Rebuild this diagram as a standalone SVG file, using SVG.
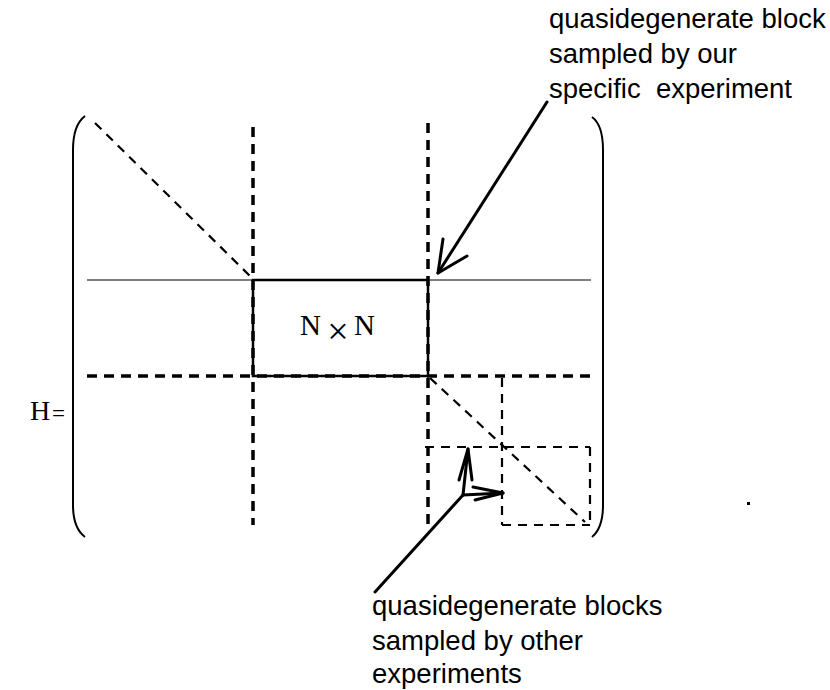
<svg xmlns="http://www.w3.org/2000/svg" width="830" height="690" viewBox="0 0 830 690">
<style>
.lbl{font-family:"Liberation Sans",Arial,sans-serif;font-size:27.5px;fill:#000;white-space:pre}
.math{font-family:"Liberation Serif","Times New Roman",serif;fill:#000}
.paren{fill:none;stroke:#000;stroke-width:2}
.thick{fill:none;stroke:#000;stroke-width:3.5;stroke-dasharray:10 7}
.dash{fill:none;stroke:#000;stroke-width:2.2;stroke-dasharray:9 7}
.solid{fill:none;stroke:#000;stroke-width:2.5}
.arrow{fill:none;stroke:#000;stroke-width:3;stroke-linecap:round;stroke-linejoin:round}
</style>
<rect width="830" height="690" fill="#fff"/>
<g id="matrix">
  <path class="paren" d="M85,116 Q73,125 73,150 L73,505 Q73,528 85,537"/>
  <path class="paren" d="M592,117 Q603,125 603,150 L603,505 Q603,528 592,537"/>
  <line x1="87" y1="280" x2="591" y2="280" stroke="#555" stroke-width="1.3"/>
  <line class="thick" x1="253" y1="127" x2="253" y2="525"/>
  <line class="thick" x1="428" y1="123" x2="428" y2="530"/>
  <line class="thick" x1="87" y1="376" x2="590" y2="376"/>
  <line class="dash" x1="95" y1="123" x2="250" y2="276"/>
  <line class="dash" x1="430" y1="378" x2="585" y2="522"/>
  <line class="dash" x1="502" y1="378" x2="502" y2="525"/>
  <line class="dash" x1="425" y1="447" x2="590" y2="447"/>
  <line class="dash" x1="590" y1="447" x2="590" y2="525"/>
  <line class="dash" x1="502" y1="525" x2="590" y2="525"/>
</g>
<g id="block">
  <rect class="solid" x="253" y="280" width="175" height="96"/>
  <text class="math" x="300" y="335" font-size="29">N</text>
  <text class="math" x="338" y="344" font-size="38" text-anchor="middle">×</text>
  <text class="math" x="354" y="335" font-size="29">N</text>
</g>
<g id="hlabel">
  <text class="math" x="30" y="420" font-size="28">H</text>
  <text class="math" x="52" y="421" font-size="23">=</text>
</g>
<g id="label-top">
  <text class="lbl" x="549" y="28">quasidegenerate block</text>
  <text class="lbl" x="549" y="63">sampled by our</text>
  <text class="lbl" x="549" y="98" xml:space="preserve">specific  experiment</text>
</g>
<g id="label-bottom">
  <text class="lbl" x="372" y="615">quasidegenerate blocks</text>
  <text class="lbl" x="372" y="650">sampled by other</text>
  <text class="lbl" x="372" y="683">experiments</text>
</g>
<g id="connectors">
  <line class="arrow" x1="547" y1="102" x2="438" y2="273"/>
  <polyline class="arrow" points="443,239 438,273 467,256"/>
  <line class="arrow" x1="375" y1="592" x2="463" y2="495"/>
  <line class="arrow" x1="463" y1="495" x2="468" y2="449"/>
  <polyline class="arrow" points="459,480 468,449 472,480"/>
  <line class="arrow" x1="463" y1="495" x2="503" y2="493"/>
  <polyline class="arrow" points="473,487 503,493 475,500"/>
</g>
<rect x="747" y="502" width="3" height="3" fill="#000"/>
</svg>
